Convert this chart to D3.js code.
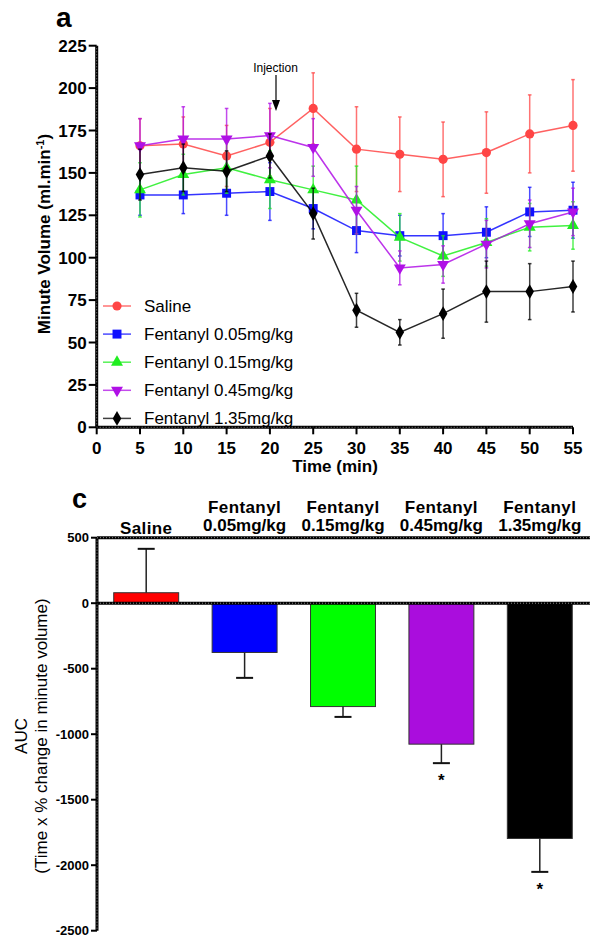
<!DOCTYPE html>
<html>
<head>
<meta charset="utf-8">
<script src="https://cdn.jsdelivr.net/npm/d3@7"></script>
<style>
  body { margin: 0; background: #fff; }
  svg { font-family: "Liberation Sans", Arial, sans-serif; }
</style>
</head>
<body>
<svg id="chart" width="590" height="938"></svg>
<script>
// ---- panel a: minute volume over time ----
const times = [5, 10, 15, 20, 25, 30, 35, 40, 45, 50, 55];
const seriesNames = ["Saline", "Fentanyl 0.05mg/kg", "Fentanyl 0.15mg/kg", "Fentanyl 0.45mg/kg", "Fentanyl 1.35mg/kg"];
const salineMean = [166, 167, 160, 168, 188, 164, 161, 158, 162, 173, 178];
const salineSem  = [16, 16, 18, 20, 21, 25, 22, 22, 24, 23, 27];
const f005Mean = [137, 137, 138, 139, 129, 116, 113, 113, 115, 127, 128];
const f005Sem  = [12, 11, 13, 17, 12, 13, 12, 13, 15, 14.5, 16.5];
const f015Mean = [140, 149, 153, 146, 140, 134, 112, 101, 109, 118, 119];
const f015Sem  = [16, 12, 15, 17, 14, 20, 14, 12, 14, 14, 14];
const f045Mean = [166, 170, 170, 172, 165, 128, 94, 96, 108, 120, 127];
const f045Sem  = [16, 19, 18, 19, 17, 14, 10, 11, 14, 14, 14];
const f135Mean = [149, 153, 151, 160, 126, 69, 56, 67, 80, 80, 83];
const f135Sem  = [15, 14, 12, 13, 15, 10, 7.5, 14.5, 18, 16.5, 15];
const yTicksA = [0, 25, 50, 75, 100, 125, 150, 175, 200, 225];
const xTicksA = [0, 5, 10, 15, 20, 25, 30, 35, 40, 45, 50, 55];

// ---- panel c: AUC bars ----
const groupLine1 = ["Saline", "Fentanyl", "Fentanyl", "Fentanyl", "Fentanyl"];
const groupLine2 = ["", "0.05mg/kg", "0.15mg/kg", "0.45mg/kg", "1.35mg/kg"];
const aucMean = [80, -376, -789, -1076, -1796];
const aucSem  = [335, 194, 79, 145, 255];
const aucSig  = ["", "", "", "*", "*"];
const yTicksC = [500, 0, -500, -1000, -1500, -2000, -2500];

const lineColors = ["#ff4545", "#1010ff", "#20ee20", "#b010e6", "#000000"];
const barColors  = ["#ff0000", "#0000ff", "#00ff00", "#aa0ddd", "#000000"];

const svg = d3.select("#chart");

// dotted-looking GraphPad axis line
function axisLine(g, x1, y1, x2, y2) {
  g.append("line").attr("x1", x1).attr("y1", y1).attr("x2", x2).attr("y2", y2)
    .attr("stroke", "#000").attr("stroke-width", 3);
  g.append("line").attr("x1", x1).attr("y1", y1).attr("x2", x2).attr("y2", y2)
    .attr("stroke", "#fff").attr("stroke-width", 1).attr("stroke-dasharray", "1,2")
    .attr("opacity", 0.55);
}

// ================= panel a =================
const x = d3.scaleLinear().domain([0, 55]).range([96.7, 573]);
const y = d3.scaleLinear().domain([0, 225]).range([427.3, 45.7]);

const gA = svg.append("g");
gA.append("text").attr("x", 56).attr("y", 27).attr("font-size", 28).attr("font-weight", "bold").text("a");

axisLine(gA, x(0), y(0), x(0), y(225));
axisLine(gA, x(0), y(0), x(55), y(0));

gA.selectAll(".ytA").data(yTicksA).join("line")
  .attr("x1", x(0) - 8).attr("x2", x(0)).attr("y1", d => y(d)).attr("y2", d => y(d))
  .attr("stroke", "#000").attr("stroke-width", 2);
gA.selectAll(".ylA").data(yTicksA).join("text")
  .attr("x", x(0) - 10).attr("y", d => y(d) + 6).attr("text-anchor", "end")
  .attr("font-size", 17).attr("font-weight", "bold").text(d => d);
gA.selectAll(".xtA").data(xTicksA).join("line")
  .attr("x1", d => x(d)).attr("x2", d => x(d)).attr("y1", y(0)).attr("y2", y(0) + 7)
  .attr("stroke", "#000").attr("stroke-width", 2);
gA.selectAll(".xlA").data(xTicksA).join("text")
  .attr("x", d => x(d)).attr("y", y(0) + 26.5).attr("text-anchor", "middle")
  .attr("font-size", 17).attr("font-weight", "bold").text(d => d);

gA.append("text").attr("x", 335).attr("y", 472).attr("text-anchor", "middle")
  .attr("font-size", 17).attr("font-weight", "bold").text("Time (min)");
const yt = gA.append("text").attr("transform", "translate(50,234) rotate(-90)")
  .attr("text-anchor", "middle").attr("font-size", 17).attr("font-weight", "bold");
yt.append("tspan").text("Minute Volume (ml.min");
yt.append("tspan").attr("dy", -6).attr("font-size", 11).text("-1");
yt.append("tspan").attr("dy", 6).text(")");

// injection annotation
gA.append("text").attr("x", 275.5).attr("y", 72).attr("text-anchor", "middle")
  .attr("font-size", 12).text("Injection");
gA.append("line").attr("x1", 276).attr("x2", 276).attr("y1", 75).attr("y2", 102)
  .attr("stroke", "#000").attr("stroke-width", 1.2);
gA.append("path").attr("d", "M272,100 L280,100 L276,111 Z").attr("fill", "#000");

const means = [salineMean, f005Mean, f015Mean, f045Mean, f135Mean];
const sems = [salineSem, f005Sem, f015Sem, f045Sem, f135Sem];
const symbols = [
  d3.symbol().type(d3.symbolCircle).size(66),
  d3.symbol().type(d3.symbolSquare).size(80),
  d3.symbol().type(d3.symbolTriangle).size(62),
  d3.symbol().type(d3.symbolTriangle).size(62),
  d3.symbol().type(d3.symbolDiamond).size(64)
];
const rotations = [0, 0, 0, 180, 0];

const line = d3.line().x(d => x(d.t)).y(d => y(d.m));

seriesNames.forEach((name, i) => {
  const pts = times.map((t, j) => ({t: t, m: means[i][j], s: sems[i][j]}));
  const g = gA.append("g");
  const col = lineColors[i];
  g.selectAll(".eb").data(pts).join("line")
    .attr("x1", d => x(d.t)).attr("x2", d => x(d.t))
    .attr("y1", d => y(d.m - d.s)).attr("y2", d => y(d.m + d.s))
    .attr("stroke", col).attr("stroke-width", 1.5).attr("opacity", 0.75);
  [-1, 1].forEach(sgn => {
    g.selectAll(".cap" + sgn).data(pts).join("line")
      .attr("x1", d => x(d.t) - 1.8).attr("x2", d => x(d.t) + 1.8)
      .attr("y1", d => y(d.m + sgn * d.s)).attr("y2", d => y(d.m + sgn * d.s))
      .attr("stroke", col).attr("stroke-width", 1.5).attr("opacity", 0.75);
  });
  g.append("path").attr("d", line(pts)).attr("fill", "none")
    .attr("stroke", col).attr("stroke-width", 1.5).attr("opacity", 0.85);
  g.selectAll(".pt").data(pts).join("path")
    .attr("d", symbols[i])
    .attr("transform", d => `translate(${x(d.t)},${y(d.m)}) rotate(${rotations[i]})`)
    .attr("fill", col);

  // legend
  const ly = 306 + 28.1 * i;
  gA.append("line").attr("x1", 103).attr("x2", 131).attr("y1", ly).attr("y2", ly)
    .attr("stroke", col).attr("stroke-width", 1.5).attr("opacity", 0.75);
  gA.append("path").attr("d", symbols[i])
    .attr("transform", `translate(117,${ly}) rotate(${rotations[i]})`).attr("fill", col);
  gA.append("text").attr("x", 144).attr("y", ly + 6).attr("font-size", 17).text(name);
});

// ================= panel c =================
const xb = d3.scaleBand().domain(d3.range(5)).range([97, 589]).paddingInner(0.34).paddingOuter(0.17);
const yb = d3.scaleLinear().domain([-2500, 500]).range([930.7, 537.7]);

const gC = svg.append("g");
gC.append("text").attr("x", 72).attr("y", 508).attr("font-size", 27).attr("font-weight", "bold").text("c");

const bars = d3.range(5).map(i => ({i: i, m: aucMean[i], s: aucSem[i]}));

gC.selectAll(".bar").data(bars).join("rect")
  .attr("x", d => xb(d.i)).attr("width", xb.bandwidth())
  .attr("y", d => yb(Math.max(0, d.m))).attr("height", d => Math.abs(yb(d.m) - yb(0)))
  .attr("fill", (d, i) => barColors[i]).attr("stroke", "#333").attr("stroke-width", 1);

gC.selectAll(".bEb").data(bars).join("line")
  .attr("x1", d => xb(d.i) + xb.bandwidth() / 2).attr("x2", d => xb(d.i) + xb.bandwidth() / 2)
  .attr("y1", d => yb(d.m)).attr("y2", d => yb(d.m + Math.sign(d.m) * d.s))
  .attr("stroke", "#222").attr("stroke-width", 1.5);
gC.selectAll(".bCap").data(bars).join("line")
  .attr("x1", d => xb(d.i) + xb.bandwidth() / 2 - 8.5).attr("x2", d => xb(d.i) + xb.bandwidth() / 2 + 8.5)
  .attr("y1", d => yb(d.m + Math.sign(d.m) * d.s)).attr("y2", d => yb(d.m + Math.sign(d.m) * d.s))
  .attr("stroke", "#111").attr("stroke-width", 2);
gC.selectAll(".sig").data(bars).join("text")
  .attr("x", d => xb(d.i) + xb.bandwidth() / 2).attr("y", d => yb(d.m - d.s) + 23)
  .attr("text-anchor", "middle").attr("font-size", 17).attr("font-weight", "bold")
  .text(d => aucSig[d.i]);

axisLine(gC, 97, yb(500), 590, yb(500));
axisLine(gC, 97, yb(0), 590, yb(0));
axisLine(gC, 97, yb(500), 97, yb(-2500));

gC.selectAll(".ytC").data(yTicksC).join("line")
  .attr("x1", 91).attr("x2", 97).attr("y1", d => yb(d)).attr("y2", d => yb(d))
  .attr("stroke", "#000").attr("stroke-width", 2);
gC.selectAll(".ylC").data(yTicksC).join("text")
  .attr("x", 89).attr("y", d => yb(d) + 4.5).attr("text-anchor", "end")
  .attr("font-size", 13).attr("font-weight", "bold").text(d => d);

gC.selectAll(".g1").data(bars).join("text")
  .attr("x", d => xb(d.i) + xb.bandwidth() / 2).attr("y", d => groupLine2[d.i] ? 513 : 534)
  .attr("text-anchor", "middle").attr("font-size", 17).attr("font-weight", "bold")
  .attr("letter-spacing", 0.4).text(d => groupLine1[d.i]);
gC.selectAll(".g2").data(bars).join("text")
  .attr("x", d => xb(d.i) + xb.bandwidth() / 2).attr("y", 531)
  .attr("text-anchor", "middle").attr("font-size", 17).attr("font-weight", "bold")
  .text(d => groupLine2[d.i]);

const ytc = gC.append("text").attr("transform", "translate(0,736) rotate(-90)")
  .attr("text-anchor", "middle").attr("font-size", 17);
ytc.append("tspan").attr("x", 0).attr("y", 27).text("AUC");
ytc.append("tspan").attr("x", 0).attr("y", 47).text("(Time x % change in minute volume)");
</script>
</body>
</html>
